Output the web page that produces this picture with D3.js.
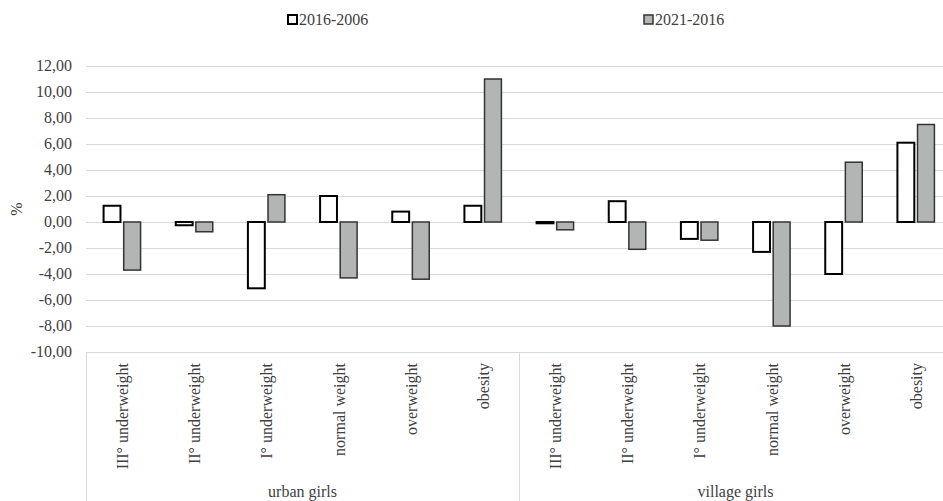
<!DOCTYPE html>
<html><head><meta charset="utf-8">
<script src="https://cdn.jsdelivr.net/npm/d3@7"></script>
<style>body{margin:0;background:#fff}svg{display:block}</style>
</head><body><svg id="c" width="943" height="501" font-family="Liberation Serif, DejaVu Serif, serif"></svg>
<script>
const groups = ["urban girls", "village girls"];
const categories = ["III° underweight", "II° underweight", "I° underweight", "normal weight", "overweight", "obesity"];
const seriesNames = ["2016-2006", "2021-2016"];
const urban_2016_2006 = [1.25, -0.25, -5.1, 2.0, 0.8, 1.25];
const urban_2021_2016 = [-3.7, -0.75, 2.1, -4.3, -4.4, 11.0];
const village_2016_2006 = [-0.1, 1.6, -1.3, -2.3, -4.0, 6.1];
const village_2021_2016 = [-0.6, -2.1, -1.4, -8.0, 4.6, 7.5];
const yTicks = [12, 10, 8, 6, 4, 2, 0, -2, -4, -6, -8, -10];

(function () {
const svg = d3.select("#c");
const FONT = "Liberation Serif, DejaVu Serif, serif";
const TXT = "#404040";
const mLeft = 86, mRight = 952, mTop = 66, mBottom = 352;
const y = d3.scaleLinear().domain([-10, 12]).range([mBottom, mTop]);
const keys = [];
groups.forEach(g => categories.forEach(c => keys.push(g + "|" + c)));
const x = d3.scaleBand().domain(keys).range([mLeft, mRight]);
const xs = d3.scaleBand().domain(seriesNames).range([x.bandwidth()/2 - 18.5, x.bandwidth()/2 + 18.5]).paddingInner(0.16);

svg.append("g").selectAll("line").data(yTicks).join("line")
  .attr("x1", mLeft).attr("x2", 943).attr("y1", d => Math.round(y(d)) + 0.5).attr("y2", d => Math.round(y(d)) + 0.5)
  .attr("stroke", "#d9d9d9").attr("stroke-width", 1);

const fmt = v => v.toFixed(2).replace(".", ",");
svg.append("g").selectAll("text").data(yTicks).join("text")
  .attr("x", 72).attr("y", d => y(d) + 5).attr("text-anchor", "end")
  .attr("font-family", FONT).attr("fill", TXT)
  .attr("font-size", 16).text(fmt);

svg.append("text").attr("transform", `translate(22,${y(1)}) rotate(-90)`)
  .attr("font-family", FONT).attr("fill", TXT)
  .attr("text-anchor", "middle").attr("font-size", 16).text("%");

const data = [];
const vals = {"urban girls": [urban_2016_2006, urban_2021_2016], "village girls": [village_2016_2006, village_2021_2016]};
groups.forEach(g => categories.forEach((c, i) => seriesNames.forEach((s, j) => {
  data.push({key: g + "|" + c, s, v: vals[g][j][i]});
})));
svg.append("g").selectAll("rect").data(data).join("rect")
  .attr("x", d => x(d.key) + xs(d.s))
  .attr("width", xs.bandwidth())
  .attr("y", d => Math.min(y(d.v), y(0)))
  .attr("height", d => Math.max(Math.abs(y(d.v) - y(0)), 1))
  .attr("fill", d => d.s === seriesNames[0] ? "#ffffff" : "#b3b5b5")
  .attr("stroke", d => d.s === seriesNames[0] ? "#000" : "#333")
  .attr("stroke-width", d => d.s === seriesNames[0] ? 2 : 1.5);

const ax = svg.append("g");
ax.append("line").attr("x1", mLeft).attr("x2", 943).attr("y1", 352.5).attr("y2", 352.5).attr("stroke", "#d9d9d9");
const dividers = [mLeft, x(groups[1] + "|" + categories[0]), mRight];
ax.selectAll("line.v").data(dividers).join("line").attr("class", "v")
  .attr("x1", d => Math.round(d) + 0.5).attr("x2", d => Math.round(d) + 0.5)
  .attr("y1", 352).attr("y2", 501).attr("stroke", "#d9d9d9");

ax.selectAll("text.cat").data(keys).join("text").attr("class", "cat")
  .attr("transform", d => `translate(${x(d) + x.bandwidth()/2 + 6},363) rotate(-90)`)
  .attr("font-family", FONT).attr("fill", TXT)
  .attr("text-anchor", "end").attr("font-size", 16).text(d => d.split("|")[1]);

ax.selectAll("text.grp").data(groups).join("text").attr("class", "grp")
  .attr("x", g => x(g + "|" + categories[0]) + 3 * x.bandwidth())
  .attr("font-family", FONT).attr("fill", TXT)
  .attr("y", 497).attr("text-anchor", "middle").attr("font-size", 16).text(g => g);

const legX = [287, 643];
const leg = svg.append("g").selectAll("g").data(seriesNames).join("g")
  .attr("transform", (d, i) => `translate(${legX[i]},0)`);
leg.append("rect").attr("x", 1).attr("y", 15).attr("width", 9).attr("height", 9)
  .attr("fill", (d, i) => i === 0 ? "#fff" : "#b3b5b5")
  .attr("stroke", (d, i) => i === 0 ? "#000" : "#333").attr("stroke-width", (d, i) => i === 0 ? 2 : 1.5);
leg.append("text").attr("x", 12).attr("y", 25).attr("font-size", 16)
  .attr("font-family", FONT).attr("fill", TXT).text(d => d);
})();
</script></body></html>
